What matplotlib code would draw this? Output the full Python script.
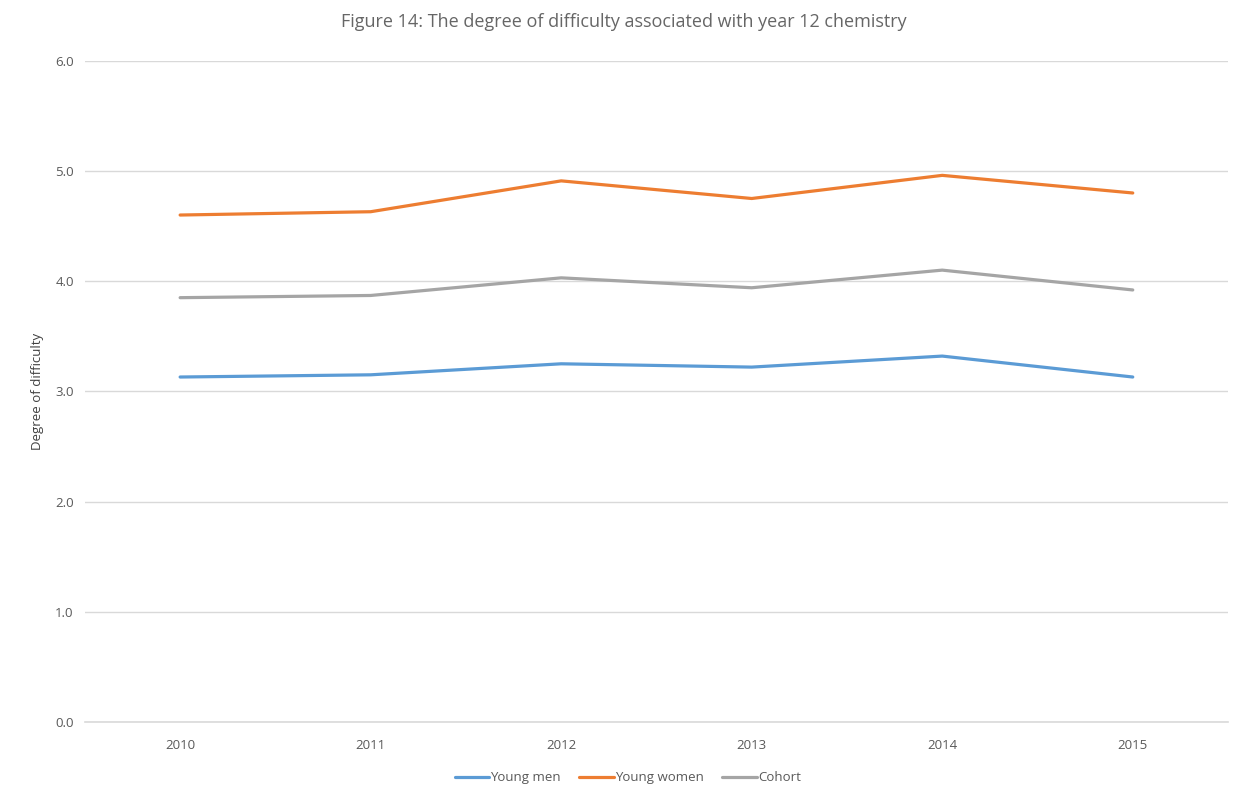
import matplotlib.pyplot as plt

years = ['2010', '2011', '2012', '2013', '2014', '2015']
young_men = [3.13, 3.15, 3.25, 3.22, 3.32, 3.13]
young_women = [4.60, 4.63, 4.91, 4.75, 4.96, 4.80]
cohort = [3.85, 3.87, 4.03, 3.94, 4.10, 3.92]

series = [
    ('Young men', young_men, '#5B9BD5'),
    ('Young women', young_women, '#ED7D31'),
    ('Cohort', cohort, '#A5A5A5'),
]

plt.rcParams['font.family'] = ['Open Sans', 'DejaVu Sans']

fig = plt.figure(figsize=(12.48, 7.89), dpi=100)
ax = fig.add_axes([0.068, 0.085, 0.916, 0.838])

x = range(len(years))
for name, vals, color in series:
    ax.plot(x, vals, color=color, linewidth=2.3, label=name, solid_capstyle='round')

ax.set_xlim(-0.5, len(years) - 0.5)
ax.set_ylim(0, 6)
ax.set_yticks([0, 1, 2, 3, 4, 5, 6])
ax.set_yticklabels([f'{v:.1f}' for v in range(7)])
ax.set_xticks(list(x))
ax.set_xticklabels(years)

ax.grid(axis='y', color='#D9D9D9', linewidth=1)
ax.set_axisbelow(True)
for s in ax.spines.values():
    s.set_visible(False)
# bottom axis line looks like the other gridlines
ax.spines['bottom'].set_visible(True)
ax.spines['bottom'].set_color('#D9D9D9')
ax.spines['bottom'].set_linewidth(1.2)
ax.tick_params(axis='both', length=0, labelsize=9.5, colors='#595959')
ax.tick_params(axis='y', pad=8)
ax.tick_params(axis='x', pad=12)

ax.set_ylabel('Degree of difficulty', fontsize=9.5, color='#404040', labelpad=8)

fig.text(0.5, 0.972, 'Figure 14: The degree of difficulty associated with year 12 chemistry',
         ha='center', va='center', fontsize=13, color='#666666')

fig.legend(loc='center', bbox_to_anchor=(0.503, 0.014), ncol=3, frameon=False,
           fontsize=9.5, handlelength=2.6, handletextpad=0.1, columnspacing=1.4,
           labelcolor='#595959')

fig.savefig('out.png', dpi=100)
